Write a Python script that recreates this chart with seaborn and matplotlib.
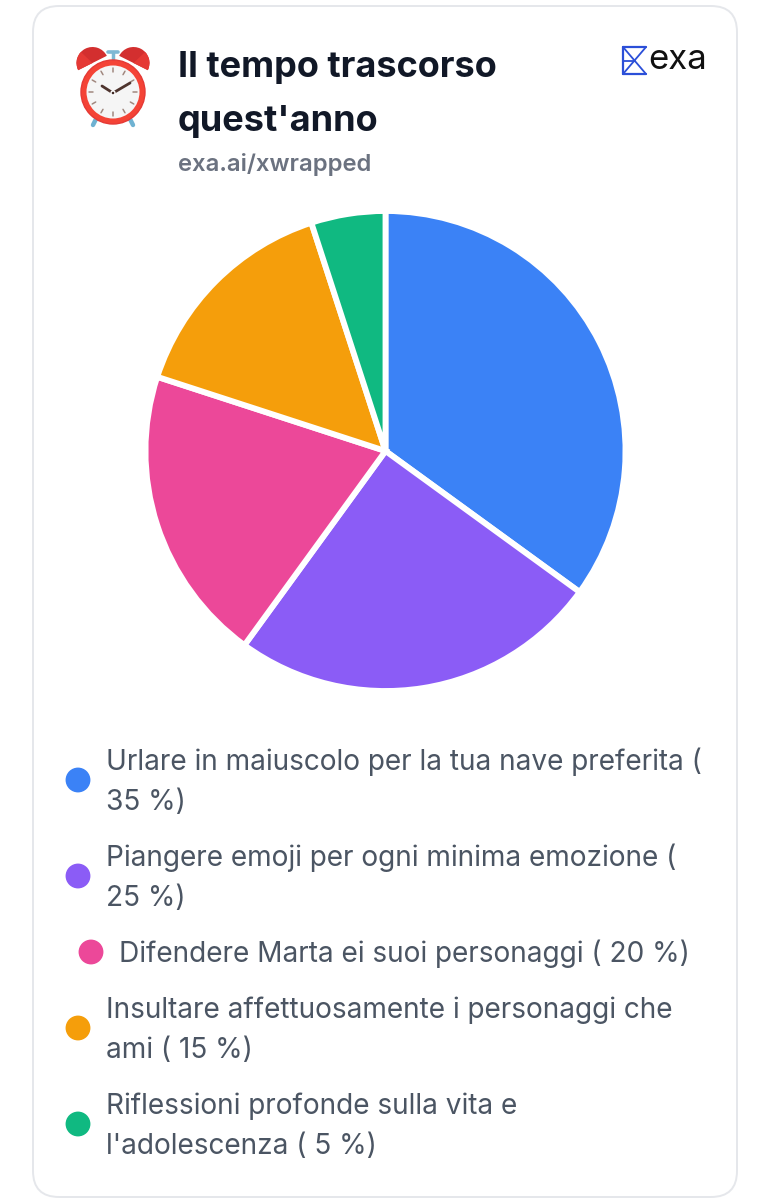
import numpy as np
import matplotlib
matplotlib.use("Agg")
import matplotlib.pyplot as plt
from matplotlib.patches import FancyBboxPatch, Circle, Wedge
from matplotlib.transforms import Affine2D
import pandas as pd
import seaborn as sns

sns.set_theme(style="white")
plt.rcParams['font.family'] = ['Inter', 'DejaVu Sans']

categories = ["Urlare in maiuscolo per la tua nave preferita",
              "Piangere emoji per ogni minima emozione",
              "Difendere Marta ei suoi personaggi",
              "Insultare affettuosamente i personaggi che ami",
              "Riflessioni profonde sulla vita e l'adolescenza"]
values = [35, 25, 20, 15, 5]
colors = ["#3B82F6", "#8B5CF6", "#EC4899", "#F59E0B", "#10B981"]
legend_lines = [["Urlare in maiuscolo per la tua nave preferita (", "35 %)"],
                ["Piangere emoji per ogni minima emozione (", "25 %)"],
                ["Difendere Marta ei suoi personaggi ( 20 %)"],
                ["Insultare affettuosamente i personaggi che", "ami ( 15 %)"],
                ["Riflessioni profonde sulla vita e", "l'adolescenza ( 5 %)"]]
W, H = 770, 1200
fig = plt.figure(figsize=(W/100, H/100), dpi=100, facecolor="white")

# page-pixel overlay
ov = fig.add_axes([0, 0, 1, 1], zorder=1)
ov.set_xlim(0, W); ov.set_ylim(H, 0); ov.axis("off")
ov.add_patch(FancyBboxPatch((33, 6), 704, 1191, boxstyle="round,pad=0,rounding_size=26",
                            fc="white", ec="#E5E7EB", lw=1.4))

# pie
cx, cy, r = 385.5, 451, 240
ax = fig.add_axes([(cx-r-2)/W, 1-(cy+r+2)/H, (2*r+4)/W, (2*r+4)/H], zorder=2)
ax.pie(values, colors=colors, startangle=90, counterclock=False, radius=1,
       wedgeprops=dict(edgecolor="white", linewidth=4.2))
ax.set_xlim(-(r+2)/r, (r+2)/r); ax.set_ylim(-(r+2)/r, (r+2)/r)
ax.set_aspect("equal")

# header text
ov.text(178, 67, "Il tempo trascorso", fontsize=26, fontweight="bold", color="#111827", va="center", ha="left")
ov.text(178, 122, "quest'anno", fontsize=26, fontweight="bold", color="#111827", va="center", ha="left")
ov.text(178, 165, "exa.ai/xwrapped", fontsize=17.2, fontweight="semibold", color="#6B7280", va="center", ha="left")

# alarm clock emoji
c = (113, 92)
for sx, bx in ((-1, 92.5), (1, 133.5)):
    rot = Affine2D().rotate_deg_around(bx, 63, sx*26.6) + ov.transData
    ov.add_patch(Wedge((bx, 63), 16, 180, 360, fc="#D32F2F", ec="none", zorder=3, transform=rot))
    ov.add_patch(Wedge((bx, 63), 16, 180 if sx < 0 else 290, 250 if sx < 0 else 360,
                       fc="#E53935", ec="none", zorder=3, transform=rot))
    ov.plot([113+sx*16, 113+sx*20], [117, 125], color="#6FB2D2", lw=3.2, zorder=3)
ov.plot([113, 113], [52, 60], color="#7FB8D4", lw=2.5, zorder=3)
ov.plot([108, 118], [52, 52], color="#7FB8D4", lw=2.6, zorder=3)
ov.add_patch(Circle(c, 32, fc="#F44336", ec="#E53935", zorder=4))
ov.add_patch(Circle(c, 26.5, fc="#F5F5F5", ec="none", zorder=5))
for i in range(12):
    a = np.deg2rad(i*30)
    ov.plot([c[0]+20*np.sin(a), c[0]+24*np.sin(a)], [c[1]-20*np.cos(a), c[1]-24*np.cos(a)],
            color="#A1887F", lw=1.1, zorder=6)
ov.plot([102, 113, 130], [86, 93, 83], color="#4E342E", lw=2, zorder=7, solid_joinstyle="miter")
ov.add_patch(Circle((113, 93), 2, fc="#3E2723", zorder=8))

# exa logo
b = "#2B4FD8"
ov.plot([623, 646], [47, 47], color=b, lw=1.6, zorder=3)
ov.plot([623, 646], [74, 74], color=b, lw=1.6, zorder=3)
ov.plot([623, 623], [47, 74], color=b, lw=1.6, zorder=3)
ov.plot([623, 646], [47, 74], color=b, lw=1.3, zorder=3)
ov.plot([623, 646], [74, 47], color=b, lw=1.3, zorder=3)
ov.plot([623, 634.5], [60.5, 60.5], color=b, lw=1.3, zorder=3)
ov.text(648, 60, "exa", fontsize=25, color="#111111", va="center", ha="left")

# legend
dot_x = [78, 78, 91, 78, 78]
dot_y = [780, 876, 952, 1028, 1124]
text_x = [106, 106, 119, 106, 106]
line_y = [[762, 802], [858, 898], [954], [1010, 1050], [1106, 1146]]
dots = pd.DataFrame({"x": dot_x, "y": dot_y, "c": categories})
sns.scatterplot(data=dots, x="x", y="y", hue="c", palette=colors, s=320, linewidth=0,
                legend=False, ax=ov, zorder=3)
ov.set_xlim(0, W); ov.set_ylim(H, 0)
for tx, ys, lines in zip(text_x, line_y, legend_lines):
    for y, t in zip(ys, lines):
        ov.text(tx, y, t, fontsize=20.17, color="#4B5563", va="center", ha="left")

fig.savefig("out.png", dpi=100, facecolor="white")
